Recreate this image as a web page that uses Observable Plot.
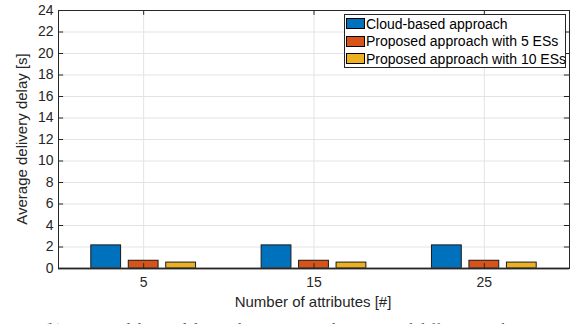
<!DOCTYPE html>
<html>
<head>
<meta charset="utf-8">
<script src="https://cdn.jsdelivr.net/npm/d3@7"></script>
<script src="https://cdn.jsdelivr.net/npm/@observablehq/plot@0.6"></script>
<style>
  html, body { margin: 0; padding: 0; background: #fff; }
  #wrap { position: relative; width: 579px; height: 324px; overflow: hidden; font-family: "Liberation Sans", Arial, Helvetica, sans-serif; }
  #legend { position: absolute; left: 344px; top: 14px; width: 222px; height: 54px; border: 1px solid #262626; background: #fff; box-sizing: border-box; font-size: 14px; color: #000; }
  #legend .row { position: absolute; left: 1px; height: 17px; display: flex; align-items: center; white-space: nowrap; }
  #legend .sw { width: 19px; height: 11px; border: 1px solid #000; box-sizing: border-box; margin-right: 1px; }
  #caption { position: absolute; left: 0; width: 579px; top: 321px; text-align: center; font-family: "Liberation Serif", "Times New Roman", serif; font-size: 16px; color: #555; white-space: nowrap; }
  #ylabel { position: absolute; left: 21px; top: 139px; transform: translate(-50%, -50%) rotate(-90deg); font-size: 15px; color: #262626; white-space: nowrap; }
  #xlabel { position: absolute; left: 313px; top: 301px; transform: translate(-50%, -50%); font-size: 15px; color: #262626; white-space: nowrap; }
</style>
</head>
<body>
<div id="wrap">
  <div id="chart"></div>
  <div id="ylabel">Average delivery delay [s]</div>
  <div id="xlabel">Number of attributes [#]</div>
  <div id="legend"></div>
  <div id="caption">(b) Average delivery delay with 10 MEC applications and different attributes</div>
</div>
<script>
// Number of attributes on the x axis
const attributes = [5, 15, 25];
// Series names and colours
const series = ["Cloud-based approach", "Proposed approach with 5 ESs", "Proposed approach with 10 ESs"];
const colors = ["#0072BD", "#D95319", "#EDB120"];
// Average delivery delay [s] per series, one value per attribute count
const cloudDelay = [2.15, 2.15, 2.15];
const es5Delay = [0.72, 0.72, 0.72];
const es10Delay = [0.55, 0.55, 0.55];
// Axis ticks
const yTicks = [0, 2, 4, 6, 8, 10, 12, 14, 16, 18, 20, 22, 24];

// Grouped-bar geometry in x data units
const groupOffsets = [-2.2, 0, 2.2];
const barWidth = 1.75;

const seriesValues = [cloudDelay, es5Delay, es10Delay];
const rows = [];
attributes.forEach((a, i) => {
  series.forEach((s, j) => {
    rows.push({attr: a, series: s, idx: j, value: seriesValues[j][i]});
  });
});

const ink = "#262626";
const grid = "#e3e3e3";

const chart = Plot.plot({
  width: 579,
  height: 324,
  marginLeft: 58,
  marginRight: 10,
  marginTop: 10,
  marginBottom: 56,
  style: {fontFamily: "'Liberation Sans', Arial, Helvetica, sans-serif", fontSize: "14px", color: ink, background: "#fff"},
  x: {type: "linear", domain: [0, 30]},
  y: {domain: [0, 24]},
  color: {domain: series, range: colors},
  marks: [
    // grid
    Plot.ruleY(yTicks.filter(t => t > 0 && t < 24), {stroke: grid, strokeWidth: 1}),
    Plot.ruleX(attributes, {stroke: grid, strokeWidth: 1}),
    // bars
    Plot.rectY(rows, {
      x1: d => d.attr + groupOffsets[d.idx] - barWidth / 2,
      x2: d => d.attr + groupOffsets[d.idx] + barWidth / 2,
      y1: 0,
      y2: "value",
      fill: "series",
      stroke: "#1a1a1a",
      strokeWidth: 1
    }),
    // baseline
    Plot.ruleY([0], {stroke: "#4d4d4d", strokeWidth: 2}),
    // inward tick marks on all four sides
    Plot.ruleY(yTicks, {x1: 0, x2: 0.3, stroke: ink}),
    Plot.ruleY(yTicks, {x1: 29.7, x2: 30, stroke: ink}),
    Plot.ruleX(attributes, {y1: 0, y2: 0.45, stroke: ink}),
    Plot.ruleX(attributes, {y1: 23.55, y2: 24, stroke: ink}),
    // tick labels
    Plot.axisY(yTicks, {tickSize: 0, tickPadding: 5, label: null, fontSize: 14, color: ink}),
    Plot.axisX(attributes, {tickSize: 0, tickPadding: 9, label: null, fontSize: 14, color: ink, tickFormat: d => String(d)}),
    Plot.frame({stroke: ink, strokeWidth: 1})
  ]
});
document.getElementById("chart").appendChild(chart);

// legend entries
const legend = document.getElementById("legend");
series.forEach((s, j) => {
  const row = document.createElement("div");
  row.className = "row";
  row.style.top = (0 + j * 17.5) + "px";
  const sw = document.createElement("span");
  sw.className = "sw";
  sw.style.background = colors[j];
  const label = document.createElement("span");
  label.textContent = s;
  row.appendChild(sw);
  row.appendChild(label);
  legend.appendChild(row);
});
</script>
</body>
</html>
